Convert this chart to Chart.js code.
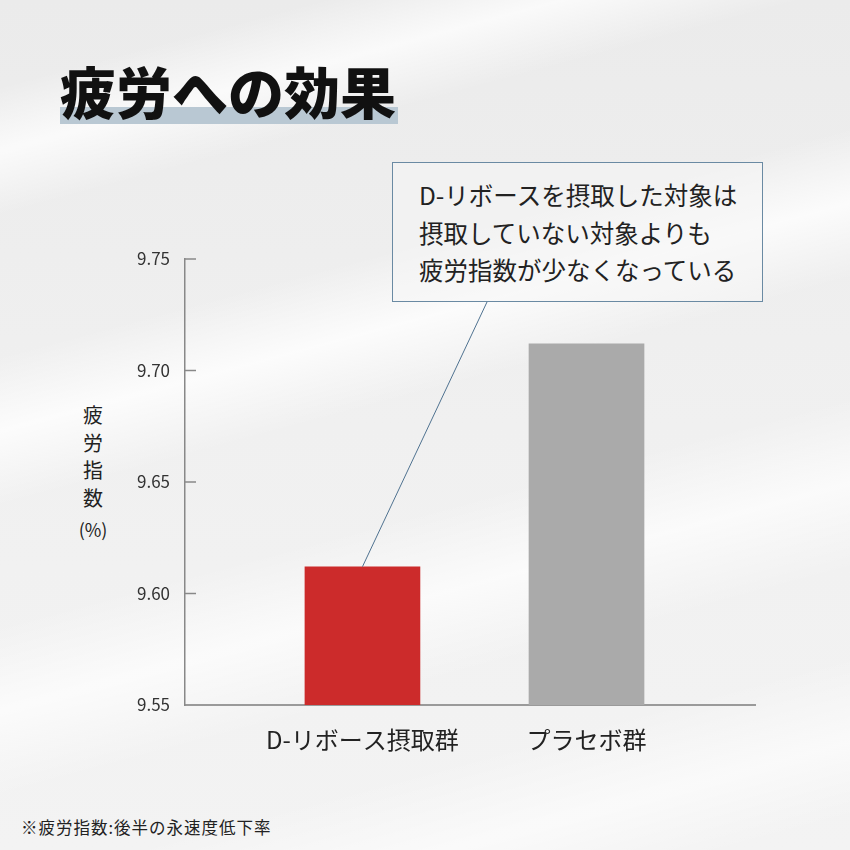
<!DOCTYPE html>
<html lang="ja">
<head>
<meta charset="utf-8">
<script src="https://cdn.jsdelivr.net/npm/chart.js@4/dist/chart.umd.min.js"></script>
<style>
  html, body { margin: 0; padding: 0; }
  body {
    width: 850px; height: 850px; position: relative; overflow: hidden;
    font-family: "Noto Sans CJK JP", "Noto Sans", sans-serif;
    background:
      linear-gradient(165deg, rgba(255,255,255,0) 8%, rgba(255,255,255,0.75) 14%, rgba(255,255,255,0) 20%,
        rgba(255,255,255,0) 33%, rgba(255,255,255,0.8) 40%, rgba(255,255,255,0) 47%,
        rgba(255,255,255,0) 58%, rgba(255,255,255,0.7) 66%, rgba(255,255,255,0) 74%,
        rgba(255,255,255,0) 82%, rgba(255,255,255,0.6) 90%, rgba(255,255,255,0) 97%),
      linear-gradient(180deg, #ebebeb 0%, #f0f0f0 50%, #f3f3f3 100%);
  }
  #wrap { position: absolute; left: 0; top: 0; width: 850px; height: 850px; z-index: 3; }
  .title {
    position: absolute; left: 60px; top: 62px; margin: 0;
    font-size: 56px; font-weight: 900; color: #111; line-height: 1; z-index: 2;
  }
  .title-band {
    position: absolute; left: 60px; top: 107px; width: 338px; height: 17px;
    background: #b9c8d3; z-index: 1;
  }
  .ytitle {
    position: absolute; left: 78px; top: 401px; width: 30px;
    font-size: 20px; line-height: 27.5px; color: #222; text-align: center; z-index: 2;
  }
  .ytitle .pct { font-size: 18px; line-height: 36px; }
  .note {
    position: absolute; left: 392px; top: 162px; width: 371px; height: 140px;
    box-sizing: border-box; border: 1px solid #6a8aa3;
    background: rgba(245,245,245,0.55);
    padding: 13px 0 0 26px;
    font-size: 24.5px; line-height: 37.5px; color: #222; z-index: 2;
  }
  .foot {
    position: absolute; left: 21px; top: 815px;
    font-size: 16.5px; letter-spacing: 1px; line-height: 24px; color: #222; z-index: 2;
  }
  canvas { position: absolute; left: 0; top: 0; }
</style>
</head>
<body>
<div class="title-band"></div>
<h1 class="title">疲労への効果</h1>
<div class="ytitle">疲<br>労<br>指<br>数<br><span class="pct">(%)</span></div>
<div class="note">D-リボースを摂取した対象は<br>摂取していない対象よりも<br>疲労指数が少なくなっている</div>
<div class="foot">※疲労指数:後半の永速度低下率</div>
<div id="wrap"><canvas id="chart" width="850" height="850"></canvas></div>
<script>
const categories = ['D-リボース摂取群', 'プラセボ群'];
const fatigueValues = [9.612, 9.712];
const barColors = ['#cc2b2b', '#aaaaaa'];
const yTicks = [9.55, 9.60, 9.65, 9.70, 9.75];

// leader line from the note box to the top of the first bar, plus inward tick marks
const overlay = {
    id: 'overlay',
    afterDatasetsDraw(chart) {
        const ctx = chart.ctx;
        const y = chart.scales.y;
        ctx.save();
        ctx.strokeStyle = '#888888';
        ctx.lineWidth = 1.5;
        yTicks.slice(1).forEach(v => {
            const py = y.getPixelForValue(v);
            ctx.beginPath();
            ctx.moveTo(chart.chartArea.left, py);
            ctx.lineTo(chart.chartArea.left + 11, py);
            ctx.stroke();
        });
        const bar = chart.getDatasetMeta(0).data[0];
        ctx.strokeStyle = '#4f7290';
        ctx.lineWidth = 1;
        ctx.beginPath();
        ctx.moveTo(487, 302);
        ctx.lineTo(bar.x, bar.y);
        ctx.stroke();
        ctx.restore();
    }
};

new Chart(document.querySelector('#chart'), {
    type: 'bar',
    data: {
        datasets: [{
            data: fatigueValues.map((v, i) => ({ x: i, y: v })),
            backgroundColor: barColors,
            barThickness: 115,
        }]
    },
    options: {
        responsive: false,
        animation: false,
        devicePixelRatio: 1,
        layout: {
            padding: { top: 259, right: 95, bottom: 0, left: 0 }
        },
        plugins: {
            legend: { display: false },
            tooltip: { enabled: false }
        },
        scales: {
            x: {
                type: 'linear',
                offset: false,
                bounds: 'data',
                min: -0.792,
                max: 1.752,
                afterDataLimits: scale => { scale.min = -0.792; scale.max = 1.752; },
                afterBuildTicks: scale => { scale.ticks = categories.map((c, i) => ({ value: i })); },
                afterFit: scale => { scale.height = 145; },
                grid: { display: false, drawTicks: false, offset: false },
                border: { color: '#9a9a9a', width: 2 },
                ticks: {
                    padding: 20,
                    color: '#222',
                    font: { family: '"Noto Sans CJK JP"', size: 24 },
                    callback: v => categories[v]
                }
            },
            y: {
                min: 9.55,
                max: 9.75,
                afterBuildTicks: scale => { scale.ticks = yTicks.map(v => ({ value: v })); },
                afterFit: scale => { scale.width = 185; },
                grid: { display: false, drawTicks: false },
                border: { color: '#888888', width: 1.5 },
                ticks: {
                    padding: 15,
                    color: '#333',
                    font: { family: '"Noto Sans CJK JP"', size: 17 },
                    callback: v => v.toFixed(2)
                }
            }
        }
    },
    plugins: [overlay]
});
</script>
</body>
</html>
